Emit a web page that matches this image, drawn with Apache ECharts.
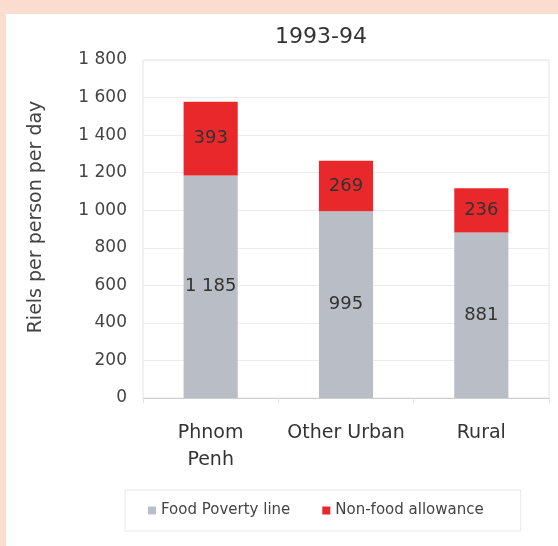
<!DOCTYPE html>
<html><head><meta charset="utf-8">
<script src="https://cdn.jsdelivr.net/npm/echarts@6/dist/echarts.min.js"></script>
<style>
html,body{margin:0;padding:0;background:#fddcd0;}
#panel{position:absolute;left:6px;top:14px;width:552px;height:532px;background:#fff;}
#c{position:absolute;left:0;top:0;width:558px;height:546px;}
</style></head>
<body><div id="panel"></div><div id="c"></div>
<script>
const categories = ['Phnom\nPenh', 'Other Urban', 'Rural'];
const foodPoverty = [1185, 995, 881];
const nonFood = [393, 269, 236];
const yTicks = [0, 200, 400, 600, 800, 1000, 1200, 1400, 1600, 1800];
const title = '1993-94';
const yName = 'Riels per person per day';
const seriesNames = ['Food Poverty line', 'Non-food allowance'];

function fmt(v){ return String(v).replace(/\B(?=(\d{3})+(?!\d))/g, ' '); }

const chart = echarts.init(document.getElementById('c'));
const F = 'DejaVu Sans, Verdana, sans-serif';
chart.setOption({
  animation: false,
  backgroundColor: 'transparent',
  title: { text: title, left: 316, top: 21, textAlign: 'center',
    textStyle: { fontFamily: F, fontSize: 22, fontWeight: 'normal', color: '#333' } },
  grid: { left: 143, right: 9, top: 60, bottom: 148, show: true, borderColor: '#e4e4e4', borderWidth: 1 },
  legend: { left: 125, top: 490, itemGap: 32, padding: [13, 37, 13, 23],
    borderColor: '#e8e8e8', borderWidth: 1, borderRadius: 0,
    itemWidth: 8, itemHeight: 8, icon: 'rect',
    textStyle: { fontFamily: F, fontSize: 15, color: '#444' },
    data: seriesNames },
  xAxis: { type: 'category', data: categories,
    axisLine: { lineStyle: { color: '#cfcfcf' } },
    axisTick: { show: true, lineStyle: { color: '#e0e0e0' }, length: 5 },
    axisLabel: { interval: 0, fontFamily: F, fontSize: 19, color: '#333', margin: 22, lineHeight: 27 } },
  yAxis: { type: 'value', min: 0, max: 1800, interval: 200,
    name: yName, nameLocation: 'middle', nameGap: 97,
    nameTextStyle: { fontFamily: F, fontSize: 19, color: '#444', padding: [0, 0, 0, 24] },
    axisLine: { show: false }, axisTick: { show: false },
    splitLine: { lineStyle: { color: '#ececec' } },
    axisLabel: { fontFamily: F, fontSize: 17, color: '#444', margin: 16,
      formatter: v => yTicks.includes(v) ? fmt(v) : '' } },
  series: [
    { name: seriesNames[0], type: 'bar', stack: 's', data: foodPoverty, barWidth: '40%',
      itemStyle: { color: '#b9bdc5' },
      label: { show: true, position: 'inside', fontFamily: F, fontSize: 18, color: '#333', formatter: p => fmt(p.value) } },
    { name: seriesNames[1], type: 'bar', stack: 's', data: nonFood, barWidth: '40%',
      itemStyle: { color: '#e8282a' },
      label: { show: true, position: 'inside', fontFamily: F, fontSize: 18, color: '#333', formatter: p => fmt(p.value) } }
  ]
});
</script></body></html>
